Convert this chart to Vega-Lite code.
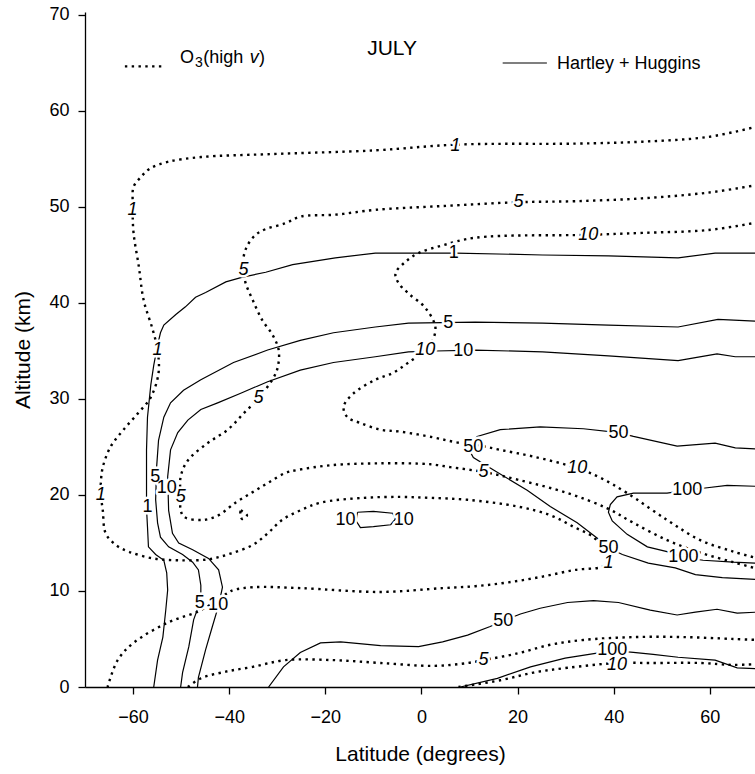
{
  "$schema": "https://vega.github.io/schema/vega-lite/v6.json",
  "width": 670,
  "height": 675,
  "autosize": {"type": "none"},
  "padding": {"left": 85, "top": 12, "right": 0, "bottom": 87},
  "background": "white",
  "config": {
    "font": "Liberation Sans",
    "view": {"stroke": null},
    "axis": {
      "grid": false,
      "domainColor": "black",
      "domainWidth": 1.3,
      "tickColor": "black",
      "tickWidth": 1.3,
      "tickSize": 7,
      "labelColor": "black",
      "labelFont": "Liberation Sans",
      "labelFontSize": 18,
      "labelFlush": false,
      "labelOverlap": false,
      "titleColor": "black",
      "titleFont": "Liberation Sans",
      "titleFontSize": 21,
      "titleFontWeight": "normal"
    }
  },
  "datasets": {
    "o3": [
      {"curve": "1", "lat": 70, "alt": 58.4}, {"curve": "1", "lat": 59.7, "alt": 57.3}, {"curve": "1", "lat": 45.9, "alt": 56.8},
      {"curve": "1", "lat": 32.0, "alt": 56.6}, {"curve": "1", "lat": 7.5, "alt": 56.5}, {"curve": "1", "lat": -9.6, "alt": 55.9},
      {"curve": "1", "lat": -32.0, "alt": 55.5}, {"curve": "1", "lat": -45.9, "alt": 55.2}, {"curve": "1", "lat": -52.8, "alt": 54.7},
      {"curve": "1", "lat": -56.5, "alt": 54.0}, {"curve": "1", "lat": -58.4, "alt": 53.1}, {"curve": "1", "lat": -59.9, "alt": 52.1},
      {"curve": "1", "lat": -60.1, "alt": 50.7}, {"curve": "1", "lat": -60.1, "alt": 49.7}, {"curve": "1", "lat": -59.9, "alt": 47.3},
      {"curve": "1", "lat": -58.8, "alt": 43.8}, {"curve": "1", "lat": -57.8, "alt": 40.3}, {"curve": "1", "lat": -55.9, "alt": 37.2},
      {"curve": "1", "lat": -54.9, "alt": 35.1}, {"curve": "1", "lat": -54.7, "alt": 32.7}, {"curve": "1", "lat": -56.3, "alt": 30.2},
      {"curve": "1", "lat": -59.0, "alt": 28.5}, {"curve": "1", "lat": -62.0, "alt": 26.8}, {"curve": "1", "lat": -64.7, "alt": 25.0},
      {"curve": "1", "lat": -66.3, "alt": 22.9}, {"curve": "1", "lat": -66.7, "alt": 21.3}, {"curve": "1", "lat": -66.7, "alt": 20.0},
      {"curve": "1", "lat": -66.3, "alt": 18.4}, {"curve": "1", "lat": -65.7, "alt": 16.0}, {"curve": "1", "lat": -63.6, "alt": 14.8},
      {"curve": "1", "lat": -60.9, "alt": 14.1}, {"curve": "1", "lat": -55.9, "alt": 13.4}, {"curve": "1", "lat": -50.5, "alt": 13.2},
      {"curve": "1", "lat": -44.3, "alt": 13.3}, {"curve": "1", "lat": -39.7, "alt": 13.9}, {"curve": "1", "lat": -35.1, "alt": 14.8},
      {"curve": "1", "lat": -32.0, "alt": 16.0}, {"curve": "1", "lat": -29.0, "alt": 17.4}, {"curve": "1", "lat": -25.2, "alt": 18.4},
      {"curve": "1", "lat": -21.0, "alt": 19.2}, {"curve": "1", "lat": -12.1, "alt": 19.7}, {"curve": "1", "lat": -4.4, "alt": 19.8},
      {"curve": "1", "lat": 1.9, "alt": 19.7}, {"curve": "1", "lat": 9.6, "alt": 19.5}, {"curve": "1", "lat": 20.0, "alt": 18.8},
      {"curve": "1", "lat": 26.8, "alt": 17.9}, {"curve": "1", "lat": 31.6, "alt": 16.7}, {"curve": "1", "lat": 35.8, "alt": 15.6},
      {"curve": "1", "lat": 37.8, "alt": 14.3}, {"curve": "1", "lat": 38.9, "alt": 13.0}, {"curve": "1", "lat": 37.5, "alt": 12.5},
      {"curve": "1", "lat": 32.0, "alt": 12.2}, {"curve": "1", "lat": 25.2, "alt": 11.5}, {"curve": "1", "lat": 18.1, "alt": 10.9},
      {"curve": "1", "lat": 11.2, "alt": 10.5}, {"curve": "1", "lat": 4.4, "alt": 10.3}, {"curve": "1", "lat": -8.5, "alt": 9.9},
      {"curve": "1", "lat": -25.2, "alt": 10.3}, {"curve": "1", "lat": -34.9, "alt": 10.4}, {"curve": "1", "lat": -39.1, "alt": 10.1},
      {"curve": "1", "lat": -40.3, "alt": 9.8}, {"curve": "1", "lat": -45.9, "alt": 8.0}, {"curve": "1", "lat": -52.8, "alt": 6.7},
      {"curve": "1", "lat": -59.9, "alt": 4.6}, {"curve": "1", "lat": -63.2, "alt": 2.8}, {"curve": "1", "lat": -65.3, "alt": 0},

      {"curve": "5", "lat": 70, "alt": 52.3}, {"curve": "5", "lat": 59.7, "alt": 51.5}, {"curve": "5", "lat": 45.9, "alt": 50.9},
      {"curve": "5", "lat": 32.0, "alt": 50.6}, {"curve": "5", "lat": 20.2, "alt": 50.5}, {"curve": "5", "lat": 4.4, "alt": 50.1},
      {"curve": "5", "lat": -9.6, "alt": 49.7}, {"curve": "5", "lat": -17.9, "alt": 49.2}, {"curve": "5", "lat": -25.2, "alt": 49.0},
      {"curve": "5", "lat": -28.3, "alt": 48.3}, {"curve": "5", "lat": -32.4, "alt": 47.7}, {"curve": "5", "lat": -34.5, "alt": 47.1},
      {"curve": "5", "lat": -36.2, "alt": 46.0}, {"curve": "5", "lat": -37.0, "alt": 44.8}, {"curve": "5", "lat": -37.0, "alt": 43.4},
      {"curve": "5", "lat": -36.6, "alt": 42.1}, {"curve": "5", "lat": -35.1, "alt": 40.3}, {"curve": "5", "lat": -33.1, "alt": 38.2},
      {"curve": "5", "lat": -31.0, "alt": 36.7}, {"curve": "5", "lat": -29.7, "alt": 35.1}, {"curve": "5", "lat": -29.9, "alt": 33.3},
      {"curve": "5", "lat": -30.8, "alt": 32.2}, {"curve": "5", "lat": -33.9, "alt": 30.1}, {"curve": "5", "lat": -37.0, "alt": 28.5},
      {"curve": "5", "lat": -40.3, "alt": 26.8}, {"curve": "5", "lat": -44.5, "alt": 25.4}, {"curve": "5", "lat": -48.6, "alt": 23.6},
      {"curve": "5", "lat": -50.1, "alt": 21.9}, {"curve": "5", "lat": -50.1, "alt": 19.8}, {"curve": "5", "lat": -50.1, "alt": 18.4},
      {"curve": "5", "lat": -49.3, "alt": 17.7}, {"curve": "5", "lat": -45.5, "alt": 17.4}, {"curve": "5", "lat": -42.2, "alt": 17.9},
      {"curve": "5", "lat": -38.7, "alt": 19.2}, {"curve": "5", "lat": -35.1, "alt": 20.3}, {"curve": "5", "lat": -31.8, "alt": 21.3},
      {"curve": "5", "lat": -28.3, "alt": 22.3}, {"curve": "5", "lat": -25.8, "alt": 22.6}, {"curve": "5", "lat": -18.9, "alt": 23.1},
      {"curve": "5", "lat": -8.5, "alt": 23.3}, {"curve": "5", "lat": 1.9, "alt": 23.2}, {"curve": "5", "lat": 6.0, "alt": 22.9},
      {"curve": "5", "lat": 12.9, "alt": 22.4}, {"curve": "5", "lat": 20.0, "alt": 21.6}, {"curve": "5", "lat": 30.4, "alt": 20.2},
      {"curve": "5", "lat": 38.7, "alt": 18.6}, {"curve": "5", "lat": 44.1, "alt": 17.1}, {"curve": "5", "lat": 51.1, "alt": 15.3},
      {"curve": "5", "lat": 58.0, "alt": 14.0}, {"curve": "5", "lat": 64.9, "alt": 13.0}, {"curve": "5", "lat": 70, "alt": 12.3},

      {"curve": "10", "lat": 70, "alt": 48.4}, {"curve": "10", "lat": 59.7, "alt": 47.6}, {"curve": "10", "lat": 45.9, "alt": 47.3},
      {"curve": "10", "lat": 34.7, "alt": 47.1}, {"curve": "10", "lat": 11.2, "alt": 46.8}, {"curve": "10", "lat": 4.4, "alt": 46.0},
      {"curve": "10", "lat": -0.6, "alt": 45.2}, {"curve": "10", "lat": -3.3, "alt": 44.3}, {"curve": "10", "lat": -5.4, "alt": 43.1},
      {"curve": "10", "lat": -4.8, "alt": 42.1}, {"curve": "10", "lat": -2.7, "alt": 41.0}, {"curve": "10", "lat": 0.8, "alt": 39.5},
      {"curve": "10", "lat": 2.9, "alt": 37.5}, {"curve": "10", "lat": 2.3, "alt": 36.1}, {"curve": "10", "lat": 0.8, "alt": 35.1},
      {"curve": "10", "lat": -2.7, "alt": 33.8}, {"curve": "10", "lat": -6.0, "alt": 32.7}, {"curve": "10", "lat": -9.6, "alt": 32.0},
      {"curve": "10", "lat": -14.1, "alt": 30.6}, {"curve": "10", "lat": -16.2, "alt": 29.2}, {"curve": "10", "lat": -15.4, "alt": 28.1},
      {"curve": "10", "lat": -12.7, "alt": 27.5}, {"curve": "10", "lat": -8.5, "alt": 26.8}, {"curve": "10", "lat": -4.4, "alt": 26.6},
      {"curve": "10", "lat": 2.5, "alt": 26.0}, {"curve": "10", "lat": 7.1, "alt": 25.5}, {"curve": "10", "lat": 11.6, "alt": 25.2},
      {"curve": "10", "lat": 16.4, "alt": 24.7}, {"curve": "10", "lat": 23.3, "alt": 24.0}, {"curve": "10", "lat": 32.4, "alt": 22.8},
      {"curve": "10", "lat": 37.2, "alt": 21.8}, {"curve": "10", "lat": 42.8, "alt": 20.2}, {"curve": "10", "lat": 51.1, "alt": 17.4},
      {"curve": "10", "lat": 58.0, "alt": 15.3}, {"curve": "10", "lat": 64.9, "alt": 14.1}, {"curve": "10", "lat": 70, "alt": 13.4},

      {"curve": "5 low", "lat": -48.6, "alt": 0}, {"curve": "5 low", "lat": -45.9, "alt": 0.9}, {"curve": "5 low", "lat": -40.7, "alt": 1.6},
      {"curve": "5 low", "lat": -35.1, "alt": 2.1}, {"curve": "5 low", "lat": -28.3, "alt": 2.8}, {"curve": "5 low", "lat": -18.3, "alt": 2.8},
      {"curve": "5 low", "lat": -8.5, "alt": 2.5}, {"curve": "5 low", "lat": 2.5, "alt": 2.2}, {"curve": "5 low", "lat": 9.6, "alt": 2.5},
      {"curve": "5 low", "lat": 12.9, "alt": 2.8}, {"curve": "5 low", "lat": 20.0, "alt": 3.5}, {"curve": "5 low", "lat": 26.8, "alt": 4.4},
      {"curve": "5 low", "lat": 33.7, "alt": 4.9}, {"curve": "5 low", "lat": 44.1, "alt": 5.2}, {"curve": "5 low", "lat": 54.5, "alt": 5.2},
      {"curve": "5 low", "lat": 64.9, "alt": 5.0}, {"curve": "5 low", "lat": 70, "alt": 4.9},

      {"curve": "10 low", "lat": 7.7, "alt": 0}, {"curve": "10 low", "lat": 16.4, "alt": 0.7}, {"curve": "10 low", "lat": 23.3, "alt": 1.5},
      {"curve": "10 low", "lat": 30.4, "alt": 2.0}, {"curve": "10 low", "lat": 40.7, "alt": 2.5}, {"curve": "10 low", "lat": 47.6, "alt": 2.5},
      {"curve": "10 low", "lat": 58.0, "alt": 2.5}, {"curve": "10 low", "lat": 64.9, "alt": 2.3}, {"curve": "10 low", "lat": 70, "alt": 2.4},

      {"curve": "islet", "lat": -37.6, "alt": 18.4}, {"curve": "islet", "lat": -36.3, "alt": 17.9}, {"curve": "islet", "lat": -37.3, "alt": 17.5},
      {"curve": "islet", "lat": -37.7, "alt": 18.0}, {"curve": "islet", "lat": -37.6, "alt": 18.4}
    ],
    "hh": [
      {"curve": "1", "lat": 70, "alt": 45.2}, {"curve": "1", "lat": 61.1, "alt": 45.2}, {"curve": "1", "lat": 53.4, "alt": 44.7},
      {"curve": "1", "lat": 38.9, "alt": 44.9}, {"curve": "1", "lat": 25.2, "alt": 45.0}, {"curve": "1", "lat": 7.1, "alt": 45.2},
      {"curve": "1", "lat": -9.6, "alt": 45.2}, {"curve": "1", "lat": -17.9, "alt": 44.7}, {"curve": "1", "lat": -26.8, "alt": 44.0},
      {"curve": "1", "lat": -32.4, "alt": 43.2}, {"curve": "1", "lat": -37.2, "alt": 42.7}, {"curve": "1", "lat": -40.7, "alt": 42.2},
      {"curve": "1", "lat": -44.9, "alt": 41.1}, {"curve": "1", "lat": -47.0, "alt": 40.6}, {"curve": "1", "lat": -49.1, "alt": 39.6},
      {"curve": "1", "lat": -51.1, "alt": 38.8}, {"curve": "1", "lat": -53.6, "alt": 37.7}, {"curve": "1", "lat": -54.3, "alt": 36.9},
      {"curve": "1", "lat": -54.9, "alt": 35.6}, {"curve": "1", "lat": -55.7, "alt": 33.5}, {"curve": "1", "lat": -56.3, "alt": 31.5},
      {"curve": "1", "lat": -57.0, "alt": 28.1}, {"curve": "1", "lat": -57.2, "alt": 24.7}, {"curve": "1", "lat": -57.2, "alt": 21.3},
      {"curve": "1", "lat": -57.2, "alt": 18.6}, {"curve": "1", "lat": -57.0, "alt": 16.7}, {"curve": "1", "lat": -56.8, "alt": 14.6},
      {"curve": "1", "lat": -55.3, "alt": 13.8}, {"curve": "1", "lat": -53.6, "alt": 13.2}, {"curve": "1", "lat": -53.0, "alt": 11.9},
      {"curve": "1", "lat": -52.8, "alt": 10.1}, {"curve": "1", "lat": -53.2, "alt": 8.0}, {"curve": "1", "lat": -53.8, "alt": 5.2},
      {"curve": "1", "lat": -54.9, "alt": 2.8}, {"curve": "1", "lat": -55.7, "alt": 0},

      {"curve": "5", "lat": 70, "alt": 38.1}, {"curve": "5", "lat": 61.7, "alt": 38.3}, {"curve": "5", "lat": 53.4, "alt": 37.5},
      {"curve": "5", "lat": 38.9, "alt": 37.7}, {"curve": "5", "lat": 25.2, "alt": 37.9}, {"curve": "5", "lat": 11.2, "alt": 38.0},
      {"curve": "5", "lat": -2.7, "alt": 37.9}, {"curve": "5", "lat": -9.6, "alt": 37.5}, {"curve": "5", "lat": -18.3, "alt": 36.9},
      {"curve": "5", "lat": -25.2, "alt": 36.1}, {"curve": "5", "lat": -32.0, "alt": 35.1}, {"curve": "5", "lat": -39.1, "alt": 33.8},
      {"curve": "5", "lat": -45.9, "alt": 32.0}, {"curve": "5", "lat": -49.5, "alt": 30.9}, {"curve": "5", "lat": -52.2, "alt": 29.6},
      {"curve": "5", "lat": -53.6, "alt": 28.1}, {"curve": "5", "lat": -54.7, "alt": 25.7}, {"curve": "5", "lat": -55.1, "alt": 22.9},
      {"curve": "5", "lat": -55.3, "alt": 19.5}, {"curve": "5", "lat": -54.9, "alt": 17.1}, {"curve": "5", "lat": -54.3, "alt": 15.6},
      {"curve": "5", "lat": -52.6, "alt": 14.6}, {"curve": "5", "lat": -49.7, "alt": 13.8}, {"curve": "5", "lat": -47.6, "alt": 13.0},
      {"curve": "5", "lat": -46.4, "alt": 12.2}, {"curve": "5", "lat": -45.9, "alt": 10.6}, {"curve": "5", "lat": -45.9, "alt": 9.1},
      {"curve": "5", "lat": -47.4, "alt": 7.0}, {"curve": "5", "lat": -48.4, "alt": 4.2}, {"curve": "5", "lat": -49.7, "alt": 1.5},
      {"curve": "5", "lat": -50.1, "alt": 0},

      {"curve": "10", "lat": 70, "alt": 34.4}, {"curve": "10", "lat": 65.3, "alt": 34.4}, {"curve": "10", "lat": 61.5, "alt": 34.7},
      {"curve": "10", "lat": 57.0, "alt": 34.3}, {"curve": "10", "lat": 53.4, "alt": 34.0}, {"curve": "10", "lat": 38.9, "alt": 34.5},
      {"curve": "10", "lat": 25.2, "alt": 34.9}, {"curve": "10", "lat": 11.2, "alt": 35.1}, {"curve": "10", "lat": 2.9, "alt": 35.0},
      {"curve": "10", "lat": -2.7, "alt": 34.9}, {"curve": "10", "lat": -9.6, "alt": 34.4}, {"curve": "10", "lat": -18.3, "alt": 33.8},
      {"curve": "10", "lat": -25.2, "alt": 33.0}, {"curve": "10", "lat": -32.0, "alt": 31.8}, {"curve": "10", "lat": -37.6, "alt": 30.6},
      {"curve": "10", "lat": -42.4, "alt": 29.6}, {"curve": "10", "lat": -45.9, "alt": 28.9}, {"curve": "10", "lat": -48.6, "alt": 27.8},
      {"curve": "10", "lat": -50.7, "alt": 26.5}, {"curve": "10", "lat": -52.2, "alt": 24.7}, {"curve": "10", "lat": -52.8, "alt": 21.9},
      {"curve": "10", "lat": -52.6, "alt": 18.4}, {"curve": "10", "lat": -51.8, "alt": 16.0}, {"curve": "10", "lat": -50.5, "alt": 15.0},
      {"curve": "10", "lat": -47.6, "alt": 14.3}, {"curve": "10", "lat": -44.3, "alt": 13.4}, {"curve": "10", "lat": -42.2, "alt": 12.2},
      {"curve": "10", "lat": -41.4, "alt": 10.4}, {"curve": "10", "lat": -42.2, "alt": 8.5}, {"curve": "10", "lat": -43.5, "alt": 6.3},
      {"curve": "10", "lat": -44.9, "alt": 3.9}, {"curve": "10", "lat": -46.4, "alt": 1.0}, {"curve": "10", "lat": -46.6, "alt": 0},

      {"curve": "10 cell", "lat": -13.3, "alt": 18.2}, {"curve": "10 cell", "lat": -10.0, "alt": 18.3}, {"curve": "10 cell", "lat": -6.0, "alt": 18.1},
      {"curve": "10 cell", "lat": -5.4, "alt": 17.5}, {"curve": "10 cell", "lat": -6.4, "alt": 16.9}, {"curve": "10 cell", "lat": -10.0, "alt": 16.7},
      {"curve": "10 cell", "lat": -12.7, "alt": 16.6}, {"curve": "10 cell", "lat": -13.6, "alt": 17.3}, {"curve": "10 cell", "lat": -13.3, "alt": 18.2},

      {"curve": "50", "lat": 70, "alt": 24.8}, {"curve": "50", "lat": 65.3, "alt": 24.9}, {"curve": "50", "lat": 61.1, "alt": 25.4},
      {"curve": "50", "lat": 53.2, "alt": 25.1}, {"curve": "50", "lat": 44.1, "alt": 26.1}, {"curve": "50", "lat": 41.0, "alt": 26.5},
      {"curve": "50", "lat": 33.7, "alt": 26.9}, {"curve": "50", "lat": 24.7, "alt": 27.1}, {"curve": "50", "lat": 16.4, "alt": 26.8},
      {"curve": "50", "lat": 11.6, "alt": 26.1}, {"curve": "50", "lat": 9.6, "alt": 25.0}, {"curve": "50", "lat": 10.8, "alt": 23.9},
      {"curve": "50", "lat": 15.0, "alt": 22.6}, {"curve": "50", "lat": 22.0, "alt": 20.5}, {"curve": "50", "lat": 26.8, "alt": 18.8},
      {"curve": "50", "lat": 32.4, "alt": 17.1}, {"curve": "50", "lat": 36.6, "alt": 15.5}, {"curve": "50", "lat": 38.9, "alt": 14.5},
      {"curve": "50", "lat": 41.8, "alt": 13.8}, {"curve": "50", "lat": 47.2, "alt": 12.9}, {"curve": "50", "lat": 52.8, "alt": 12.4},
      {"curve": "50", "lat": 57.0, "alt": 11.7}, {"curve": "50", "lat": 62.6, "alt": 11.4}, {"curve": "50", "lat": 70, "alt": 11.2},

      {"curve": "100", "lat": 70, "alt": 20.9}, {"curve": "100", "lat": 63.6, "alt": 21.0}, {"curve": "100", "lat": 58.6, "alt": 20.7},
      {"curve": "100", "lat": 55.3, "alt": 20.5}, {"curve": "100", "lat": 51.1, "alt": 20.2}, {"curve": "100", "lat": 44.1, "alt": 20.2},
      {"curve": "100", "lat": 40.7, "alt": 19.8}, {"curve": "100", "lat": 39.3, "alt": 19.0}, {"curve": "100", "lat": 38.9, "alt": 18.2},
      {"curve": "100", "lat": 39.7, "alt": 17.3}, {"curve": "100", "lat": 42.8, "alt": 15.9}, {"curve": "100", "lat": 47.0, "alt": 14.6},
      {"curve": "100", "lat": 51.1, "alt": 14.1}, {"curve": "100", "lat": 54.5, "alt": 13.5}, {"curve": "100", "lat": 58.6, "alt": 13.2},
      {"curve": "100", "lat": 64.9, "alt": 13.0}, {"curve": "100", "lat": 70, "alt": 12.9},

      {"curve": "50 low", "lat": -31.8, "alt": 0}, {"curve": "50 low", "lat": -28.7, "alt": 2.1}, {"curve": "50 low", "lat": -25.2, "alt": 3.6},
      {"curve": "50 low", "lat": -21.0, "alt": 4.6}, {"curve": "50 low", "lat": -16.8, "alt": 4.7}, {"curve": "50 low", "lat": -8.5, "alt": 4.3},
      {"curve": "50 low", "lat": -0.6, "alt": 4.2}, {"curve": "50 low", "lat": 4.4, "alt": 4.7}, {"curve": "50 low", "lat": 9.6, "alt": 5.4},
      {"curve": "50 low", "lat": 14.3, "alt": 6.3}, {"curve": "50 low", "lat": 17.0, "alt": 6.9}, {"curve": "50 low", "lat": 20.6, "alt": 7.6},
      {"curve": "50 low", "lat": 24.7, "alt": 8.2}, {"curve": "50 low", "lat": 30.4, "alt": 8.8}, {"curve": "50 low", "lat": 35.8, "alt": 9.0},
      {"curve": "50 low", "lat": 41.0, "alt": 8.8}, {"curve": "50 low", "lat": 47.6, "alt": 8.0}, {"curve": "50 low", "lat": 53.2, "alt": 7.5},
      {"curve": "50 low", "lat": 57.0, "alt": 7.8}, {"curve": "50 low", "lat": 61.5, "alt": 8.1}, {"curve": "50 low", "lat": 65.7, "alt": 7.7},
      {"curve": "50 low", "lat": 70, "alt": 7.8},

      {"curve": "100 low", "lat": 8.1, "alt": 0}, {"curve": "100 low", "lat": 15.8, "alt": 0.9}, {"curve": "100 low", "lat": 22.7, "alt": 2.1},
      {"curve": "100 low", "lat": 29.9, "alt": 3.0}, {"curve": "100 low", "lat": 36.2, "alt": 3.5}, {"curve": "100 low", "lat": 39.7, "alt": 3.8},
      {"curve": "100 low", "lat": 44.1, "alt": 3.6}, {"curve": "100 low", "lat": 48.2, "alt": 3.4}, {"curve": "100 low", "lat": 53.4, "alt": 3.1},
      {"curve": "100 low", "lat": 61.1, "alt": 2.8}, {"curve": "100 low", "lat": 65.7, "alt": 2.0}, {"curve": "100 low", "lat": 70, "alt": 1.9}
    ],
    "hhLabels": [
      {"text": "1", "lat": -57.0, "alt": 18.8}, {"text": "5", "lat": -55.4, "alt": 21.9}, {"text": "10", "lat": -53.0, "alt": 20.7},
      {"text": "5", "lat": -46.1, "alt": 8.7}, {"text": "10", "lat": -42.3, "alt": 8.5},
      {"text": "1", "lat": 6.7, "alt": 45.2}, {"text": "5", "lat": 5.6, "alt": 37.9}, {"text": "10", "lat": 8.7, "alt": 35.0},
      {"text": "50", "lat": 10.8, "alt": 25.0}, {"text": "50", "lat": 41.0, "alt": 26.5},
      {"text": "10", "lat": -15.8, "alt": 17.4}, {"text": "10", "lat": -3.7, "alt": 17.4},
      {"text": "100", "lat": 55.3, "alt": 20.5}, {"text": "50", "lat": 38.9, "alt": 14.5}, {"text": "100", "lat": 54.5, "alt": 13.5},
      {"text": "50", "lat": 17.0, "alt": 6.9}, {"text": "100", "lat": 39.7, "alt": 3.85}
    ],
    "o3Labels": [
      {"text": "1", "lat": 7.1, "alt": 56.4}, {"text": "5", "lat": 20.2, "alt": 50.5}, {"text": "10", "lat": 34.7, "alt": 47.1},
      {"text": "1", "lat": -60.1, "alt": 49.7}, {"text": "5", "lat": -37.0, "alt": 43.4}, {"text": "1", "lat": -54.9, "alt": 35.1},
      {"text": "5", "lat": -33.9, "alt": 30.1}, {"text": "10", "lat": 0.8, "alt": 35.1}, {"text": "1", "lat": -66.7, "alt": 20.0},
      {"text": "5", "lat": -50.1, "alt": 19.8}, {"text": "5", "lat": 12.9, "alt": 22.4}, {"text": "10", "lat": 32.4, "alt": 22.8},
      {"text": "1", "lat": 38.9, "alt": 12.9}, {"text": "5", "lat": 12.9, "alt": 2.8}, {"text": "10", "lat": 40.7, "alt": 2.3}
    ],
    "keyLines": [
      {"style": "dotted", "lat": -61.7, "alt": 64.65}, {"style": "dotted", "lat": -54.0, "alt": 64.65},
      {"style": "solid", "lat": 16.9, "alt": 65.0}, {"style": "solid", "lat": 26.1, "alt": 65.0}
    ],
    "notes": [
      {"part": "month", "text": "JULY", "lat": -11.3, "alt": 65.8},
      {"part": "key", "text": "O", "lat": -50.25, "alt": 65.0},
      {"part": "sub", "text": "3", "lat": -47.1, "alt": 64.6},
      {"part": "key", "text": "(high", "lat": -45.4, "alt": 65.0},
      {"part": "keyItalic", "text": "v", "lat": -35.7, "alt": 65.0},
      {"part": "key", "text": ")", "lat": -33.8, "alt": 65.0},
      {"part": "key", "text": "Hartley + Huggins", "lat": 28.2, "alt": 64.4}
    ]
  },
  "encoding": {
    "x": {
      "field": "lat",
      "type": "quantitative",
      "scale": {"domain": [-70, 69.4], "nice": false, "zero": false},
      "axis": {"values": [-60, -40, -20, 0, 20, 40, 60], "labelPadding": 14, "title": "Latitude (degrees)", "titlePadding": 17}
    },
    "y": {
      "field": "alt",
      "type": "quantitative",
      "scale": {"domain": [0, 70.31], "nice": false, "zero": false},
      "axis": {"values": [0, 10, 20, 30, 40, 50, 60, 70], "labelPadding": 9, "title": "Altitude (km)", "titlePadding": 15}
    }
  },
  "layer": [
    {
      "data": {"values": [{}]},
      "mark": {"type": "rule", "stroke": "black", "strokeWidth": 1.3},
      "encoding": {"x": {"datum": -70}, "x2": {"datum": 69.4}, "y": {"datum": 70.31}}
    },
    {
      "data": {"name": "o3"},
      "mark": {"type": "line", "clip": true, "stroke": "black", "strokeWidth": 2.4, "strokeDash": [2.4, 4.4], "strokeCap": "butt", "interpolate": "catmull-rom"},
      "encoding": {"detail": {"field": "curve"}, "order": {"value": null}}
    },
    {
      "data": {"name": "hh"},
      "mark": {"type": "line", "clip": true, "stroke": "black", "strokeWidth": 1.2},
      "encoding": {"detail": {"field": "curve"}, "order": {"value": null}}
    },
    {
      "data": {"name": "hhLabels"},
      "mark": {"type": "text", "fontSize": 18, "fill": "white", "stroke": "white", "strokeWidth": 5, "strokeJoin": "round", "align": "center", "baseline": "middle"},
      "encoding": {"text": {"field": "text"}}
    },
    {
      "data": {"name": "o3Labels"},
      "mark": {"type": "text", "fontSize": 18, "fontStyle": "italic", "fill": "white", "stroke": "white", "strokeWidth": 5, "strokeJoin": "round", "align": "center", "baseline": "middle"},
      "encoding": {"text": {"field": "text"}}
    },
    {
      "data": {"name": "hhLabels"},
      "mark": {"type": "text", "fontSize": 18, "fill": "black", "align": "center", "baseline": "middle"},
      "encoding": {"text": {"field": "text"}}
    },
    {
      "data": {"name": "o3Labels"},
      "mark": {"type": "text", "fontSize": 18, "fontStyle": "italic", "fill": "black", "align": "center", "baseline": "middle"},
      "encoding": {"text": {"field": "text"}}
    },
    {
      "data": {"name": "keyLines"},
      "transform": [{"filter": "datum.style === 'dotted'"}],
      "mark": {"type": "line", "stroke": "black", "strokeWidth": 2.4, "strokeDash": [2.4, 4.4], "strokeCap": "butt"},
      "encoding": {}
    },
    {
      "data": {"name": "keyLines"},
      "transform": [{"filter": "datum.style === 'solid'"}],
      "mark": {"type": "line", "stroke": "black", "strokeWidth": 1.2},
      "encoding": {}
    },
    {
      "data": {"name": "notes"},
      "transform": [{"filter": "datum.part === 'month'"}],
      "mark": {"type": "text", "fontSize": 21, "fill": "black", "align": "left", "baseline": "alphabetic"},
      "encoding": {"text": {"field": "text"}}
    },
    {
      "data": {"name": "notes"},
      "transform": [{"filter": "datum.part === 'key'"}],
      "mark": {"type": "text", "fontSize": 18, "fill": "black", "align": "left", "baseline": "alphabetic"},
      "encoding": {"text": {"field": "text"}}
    },
    {
      "data": {"name": "notes"},
      "transform": [{"filter": "datum.part === 'keyItalic'"}],
      "mark": {"type": "text", "fontSize": 18, "fontStyle": "italic", "fill": "black", "align": "left", "baseline": "alphabetic"},
      "encoding": {"text": {"field": "text"}}
    },
    {
      "data": {"name": "notes"},
      "transform": [{"filter": "datum.part === 'sub'"}],
      "mark": {"type": "text", "fontSize": 14, "fill": "black", "align": "left", "baseline": "alphabetic"},
      "encoding": {"text": {"field": "text"}}
    }
  ]
}
